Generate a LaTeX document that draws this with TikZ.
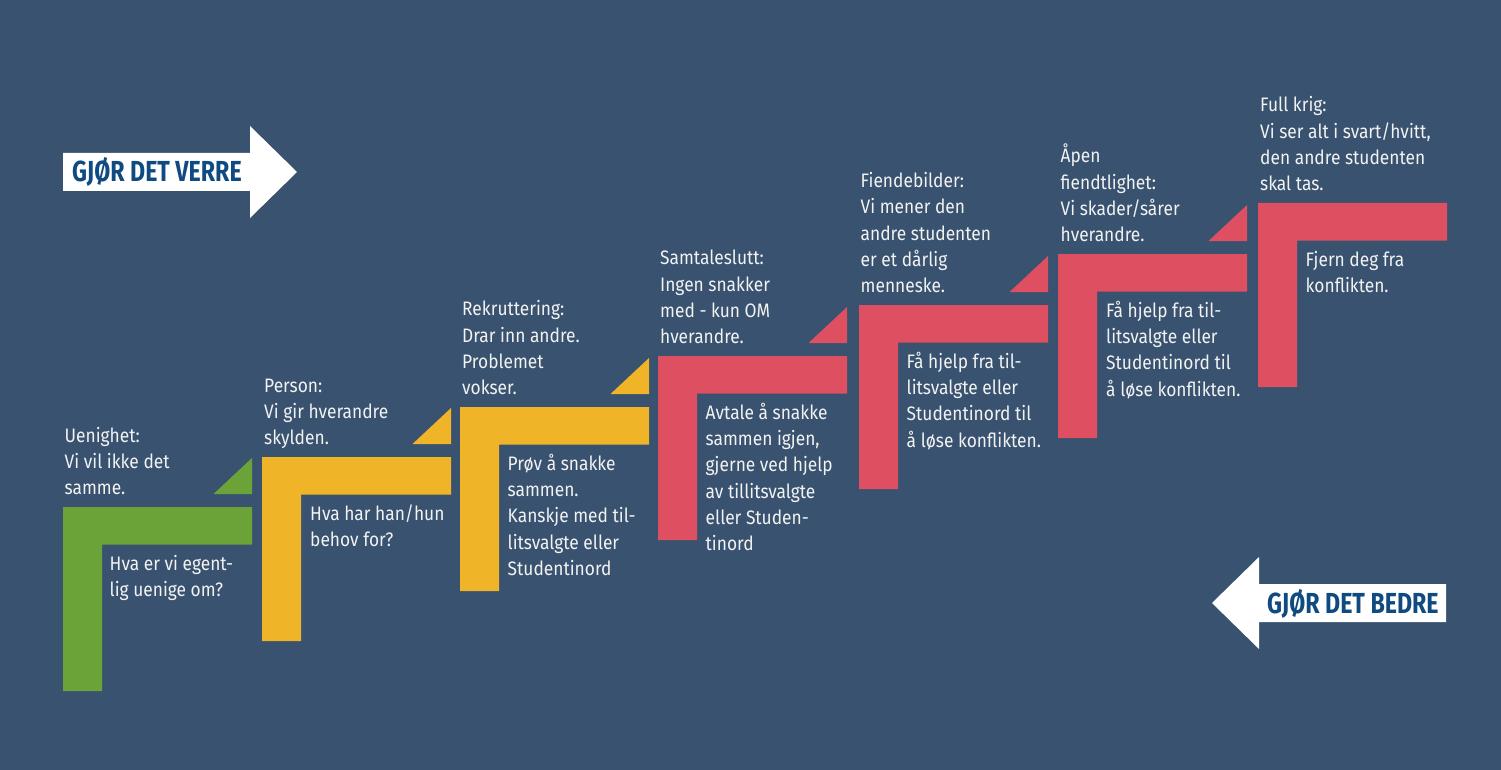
\documentclass[tikz,border=0pt]{standalone}
\usepackage{fontspec}
\setmainfont{Fira Sans}[FakeStretch=0.89]
\newfontfamily\armfont[FakeStretch=0.8]{Fira Sans}
\definecolor{bgcol}{HTML}{38526F}
\definecolor{grn}{HTML}{6BA339}
\definecolor{yel}{HTML}{F0B429}
\definecolor{redc}{HTML}{DD4F61}
\definecolor{txtcol}{HTML}{F2F2F2}
\definecolor{navy}{HTML}{0F4A80}
\newcommand{\stepshape}[3]{% x0, ytop, colour
  \fill[#3] (#1,#2) -- ++(189,0) -- ++(0,37.5) -- ++(-150,0) -- ++(0,146.5) -- ++(-39,0) -- cycle;}
\newcommand{\steptri}[3]{%
  \fill[#3] (#1+150.5,#2-13) -- ++(38.5,0) -- ++(0,-36) -- cycle;}
\tikzset{
  desc/.style={anchor=base west, inner sep=0pt, text=txtcol, font=\fontsize{19.5}{26.2}\selectfont},
  armtext/.style={anchor=base west, inner sep=0pt, text=navy, font=\armfont\bfseries\fontsize{29}{30}\selectfont},
}
\begin{document}
\begin{tikzpicture}[x=1pt,y=-1pt]
\fill[bgcol] (0,0) rectangle (1501,770);
\useasboundingbox (0,0) rectangle (1501,770);

% arrows
\fill[white] (63,153) -- (250,153) -- (250,126) -- (297,172) -- (250,218) -- (250,191) -- (63,191) -- cycle;
\node[armtext] (verre) at (72,182) {GJØR DET VERRE};
\fill[white] (1446,584) -- (1259,584) -- (1259,557) -- (1212,603) -- (1259,649) -- (1259,622) -- (1446,622) -- cycle;
\node[armtext] (bedre) at (1267,613) {GJØR DET BEDRE};

% steps
\stepshape{63}{507}{grn}   \steptri{63}{507}{grn}
\stepshape{262}{457}{yel}  \steptri{262}{457}{yel}
\stepshape{460}{407}{yel}  \steptri{460}{407}{yel}
\stepshape{658}{356}{redc} \steptri{658}{356}{redc}
\stepshape{859}{305}{redc} \steptri{859}{305}{redc}
\stepshape{1058}{254}{redc} \steptri{1058}{254}{redc}
\stepshape{1258}{203}{redc}

% descriptions (last baseline 12.5 above step top)
\node[desc] (t0) at (64.5,494.5) {\parbox[b]{200pt}{\raggedright Uenighet:\\Vi vil ikke det\\samme.}};
\node[desc] (t1) at (264,444.5) {\parbox[b]{200pt}{\raggedright Person:\\Vi gir hverandre\\skylden.}};
\node[desc] (t2) at (462,394.5) {\parbox[b]{200pt}{\raggedright Rekruttering:\\Drar inn andre.\\Problemet\\vokser.}};
\node[desc] (t3) at (660,343.5) {\parbox[b]{200pt}{\raggedright Samtaleslutt:\\Ingen snakker\\med - kun OM\\hverandre.}};
\node[desc] (t4) at (860.5,292.5) {\parbox[b]{200pt}{\raggedright Fiendebilder:\\Vi mener den\\andre studenten\\er et dårlig\\menneske.}};
\node[desc] (t5) at (1060.5,241.5) {\parbox[b]{200pt}{\raggedright Åpen\\fiendtlighet:\\Vi skader/sårer\\hverandre.}};
\node[desc] (t6) at (1260,190.5) {\parbox[b]{220pt}{\raggedright Full krig:\\Vi ser alt i svart/hvitt,\\den andre studenten\\skal tas.}};

% advice (first baseline 63.5 below step top)
\node[desc] (a0) at (109.5,570.5) {\parbox[t]{200pt}{\raggedright Hva er vi egent-\\lig uenige om?}};
\node[desc] (a1) at (310,520.5) {\parbox[t]{200pt}{\raggedright Hva har han/hun\\behov for?}};
\node[desc] (a2) at (507.5,470.5) {\parbox[t]{200pt}{\raggedright Prøv å snakke\\sammen.\\Kanskje med til-\\litsvalgte eller\\Studentinord}};
\node[desc] (a3) at (705.5,419.5) {\parbox[t]{200pt}{\raggedright Avtale å snakke\\sammen igjen,\\gjerne ved hjelp\\av tillitsvalgte\\eller Studen-\\tinord}};
\node[desc] (a4) at (906.5,368.5) {\parbox[t]{200pt}{\raggedright Få hjelp fra til-\\litsvalgte eller\\Studentinord til\\å løse konflikten.}};
\node[desc] (a5) at (1106,317.5) {\parbox[t]{200pt}{\raggedright Få hjelp fra til-\\litsvalgte eller\\Studentinord til\\å løse konflikten.}};
\node[desc] (a6) at (1305.5,266.5) {\parbox[t]{200pt}{\raggedright Fjern deg fra\\konflikten.}};
\end{tikzpicture}
\end{document}
